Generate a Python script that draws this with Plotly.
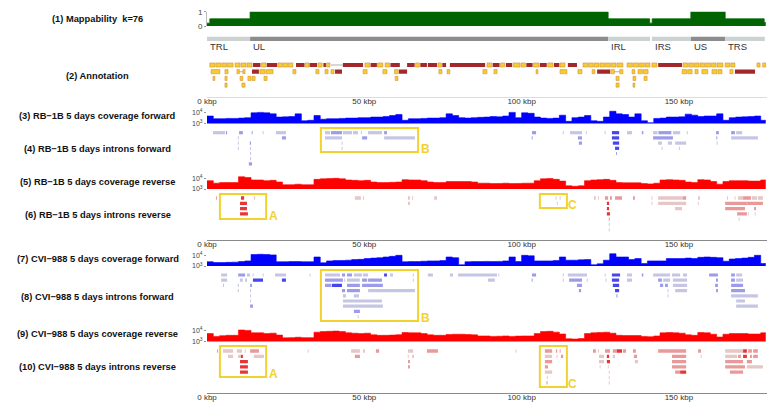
import plotly.graph_objects as go

W, H = 782, 415
X0, X1 = 207, 767
XMAX = 178.0


def fy(px):
    return 1 - px / H


# ---------------- data ----------------
tick_kbp = [0, 50, 100, 150]
tick_text = ["0 kbp", "50 kbp", "100 kbp", "150 kbp"]

# (1) mappability (step function, kbp -> fraction)
map_pos = [0, 0.9, 13.7, 127.5, 140.7, 141.5, 153.8, 164.7, 177.1, 177.6]
map_val = [0.2, 0.5, 1.0, 0.5, 0.2, 0.5, 1.0, 0.5, 0.25, 0.25]

# genome regions
region_names = ["TRL", "UL", "IRL", "IRS", "US", "TRS"]
region_start = [0, 13.7, 127.5, 141.4, 153.8, 164.7]
region_end = [13.7, 127.5, 140.8, 153.8, 164.7, 177.3]
region_unique = [False, True, False, False, True, False]

# (2) annotation: (start, end, row)
genes_yellow = [
    (0.9, 2.5, 1), (2.8, 4.5, 1), (4.8, 6.2, 1), (6.5, 8.3, 1), (8.9, 10.5, 1), (10.8, 12.4, 1),
    (12.7, 14.3, 1), (17.3, 18.8, 1), (22.5, 24.0, 1), (24.3, 25.6, 1), (25.9, 27.3, 1),
    (31.2, 32.4, 1), (35.3, 36.6, 1), (38.0, 39.1, 1), (50.2, 51.8, 1), (54.2, 55.9, 1),
    (56.6, 58.0, 1), (66.3, 67.5, 1), (73.4, 74.5, 1), (89.0, 90.5, 1), (93.3, 94.6, 1),
    (97.3, 99.5, 1), (99.8, 101.2, 1), (103.8, 105.5, 1), (108.3, 110.0, 1), (112.2, 113.8, 1),
    (119.5, 121.0, 1), (121.3, 122.8, 1), (123.1, 124.6, 1), (124.9, 126.4, 1), (126.7, 128.2, 1),
    (128.5, 130.0, 1), (130.3, 132.2, 1), (133.5, 135.2, 1), (135.5, 137.2, 1), (137.5, 139.0, 1),
    (139.3, 140.8, 1), (141.4, 143.0, 1), (151.3, 152.8, 1), (153.1, 154.6, 1), (154.9, 156.4, 1),
    (156.7, 158.2, 1), (158.5, 160.0, 1), (160.3, 161.8, 1), (162.1, 164.0, 1), (164.7, 166.2, 1),
    (166.5, 167.8, 1), (174.8, 175.8, 1), (176.6, 177.6, 1),
    (1.3, 4.1, 2), (5.7, 6.7, 2), (9.5, 10.3, 2), (11.4, 12.1, 2), (16.8, 18.5, 2), (18.8, 21.0, 2),
    (27.3, 28.3, 2), (34.6, 35.6, 2), (37.5, 38.5, 2), (39.4, 40.4, 2), (49.6, 50.9, 2),
    (55.9, 57.2, 2), (59.6, 60.8, 2), (73.7, 74.7, 2), (76.3, 77.2, 2), (87.7, 89.0, 2),
    (91.2, 92.2, 2), (104.6, 105.2, 2), (112.2, 114.4, 2), (117.9, 119.2, 2), (122.4, 123.3, 2),
    (128.3, 129.5, 2), (131.2, 132.2, 2), (135.1, 136.0, 2), (137.0, 138.4, 2), (138.7, 140.2, 2),
    (151.0, 152.5, 2), (152.8, 154.2, 2), (155.1, 156.1, 2), (157.3, 159.2, 2), (160.5, 162.1, 2),
    (162.4, 163.7, 2), (166.2, 167.2, 2),
    (1.9, 2.5, 3), (5.7, 6.4, 3), (10.5, 11.4, 3), (13.0, 14.0, 3), (14.3, 15.3, 3), (18.1, 19.1, 3),
    (59.8, 60.7, 3), (130.0, 131.0, 3), (135.4, 136.3, 3), (138.9, 139.9, 3),
    (5.7, 6.4, 4), (11.1, 12.1, 4), (130.0, 131.0, 4), (135.4, 136.0, 4),
]
genes_red = [
    (14.6, 17.0, 1), (19.0, 22.3, 1), (28.3, 31.0, 1), (32.6, 35.0, 1), (37.0, 37.8, 1),
    (43.2, 49.6, 1), (52.0, 54.0, 1), (58.3, 61.3, 1), (63.6, 66.0, 1), (67.8, 69.9, 1),
    (70.2, 73.1, 1), (74.8, 76.0, 1), (77.2, 88.4, 1), (90.8, 93.0, 1), (95.0, 97.0, 1),
    (101.5, 103.5, 1), (105.8, 108.0, 1), (110.3, 112.0, 1), (114.7, 117.6, 1), (143.4, 151.0, 1),
    (14.3, 16.5, 2), (40.7, 42.9, 2), (61.0, 63.6, 2), (124.0, 128.1, 2), (167.8, 174.2, 2),
]
gene_links = [(39.4, 43.2, 1), (10.3, 11.4, 2), (129.5, 131.2, 2)]

# coverage bins (kbp start of each 2 kbp bin)
cov_pos = list(range(0, 178, 2))
cov_rb_fwd = [5000, 2800, 2800, 3000, 3000, 3200, 3500, 10000, 11000, 10000, 8000, 4000, 4200, 4500, 8000,
              1800, 2000, 5600, 2500, 2800, 2800, 3000, 3200, 3200, 3500, 3500, 4000, 4000, 4500, 5600,
              7000, 2000, 2800, 2800, 3000, 3200, 3200, 3500, 8000, 5600, 3500, 3200, 3500, 3800, 4000,
              4500, 4200, 5000, 11000, 3500, 10000, 9000, 4000, 3200, 3000, 3200, 6000, 1600, 3500, 4000,
              5600, 1800, 1600, 4000, 14000, 8000, 7000, 4000, 8000, 1800, 1200, 3000, 3200, 4000, 4000,
              4200, 7500, 6000, 4500, 5000, 5000, 8000, 2000, 3500, 4000, 4200, 4500, 5000, 2000]
cov_rb_rev = [6000, 3500, 4000, 4000, 4000, 14000, 12000, 7000, 7000, 6000, 6500, 4500, 2500, 2500, 2800,
              2500, 2500, 8000, 9000, 9500, 10000, 9000, 7000, 6500, 6000, 6500, 4500, 4000, 4000, 4200,
              4500, 7500, 7000, 7000, 6000, 4500, 4000, 4000, 5000, 5000, 5000, 5000, 4500, 3500, 3500,
              3200, 3300, 3500, 3200, 3300, 3500, 3500, 6000, 9000, 9500, 8000, 5500, 2000, 1800, 2000,
              6000, 7000, 7500, 8000, 6500, 4000, 3800, 3800, 3800, 3200, 3000, 3500, 7000, 7500, 7000,
              6500, 4500, 4000, 7500, 7000, 5000, 2800, 5000, 6000, 6000, 6000, 5500, 5500, 7000]
cov_cvi_fwd = [2500, 2100, 2100, 2200, 2300, 2600, 3000, 12000, 12500, 12000, 11000, 2500, 2500, 2600, 2600,
               2500, 2500, 7000, 2000, 3000, 3200, 3300, 3500, 4000, 4200, 5000, 5500, 6000, 7000, 8000,
               10000, 2500, 2600, 2600, 2800, 3000, 3000, 3200, 7000, 6000, 1300, 2500, 2600, 2600, 2700,
               2600, 2700, 3000, 7000, 2600, 10000, 9000, 3000, 3000, 3000, 3200, 7000, 3500, 3500, 3800,
               4000, 1300, 1600, 3500, 14000, 7000, 7000, 4000, 5000, 1700, 3000, 3000, 3000, 5000, 5000,
               5000, 5500, 5000, 6500, 7000, 6500, 6000, 2800, 4500, 5000, 5500, 6500, 10000, 1700]
cov_cvi_rev = [5500, 3000, 3500, 3800, 3800, 12000, 11000, 6500, 6500, 5500, 6000, 4000, 2200, 2300, 2500,
               2300, 2300, 7500, 8500, 9000, 9500, 8500, 6500, 6000, 5500, 6000, 4200, 3800, 3800, 4000,
               4300, 7000, 6500, 6500, 5500, 4200, 3800, 3800, 4500, 4800, 4800, 4500, 4200, 3300, 3300,
               3000, 3100, 3300, 3000, 3200, 3300, 3300, 5500, 8500, 9000, 7500, 5000, 1800, 1700, 1900,
               5500, 6500, 7000, 7500, 6000, 3800, 3600, 3600, 3600, 3000, 2800, 3300, 6500, 7000, 6500,
               6000, 4200, 3800, 7000, 6500, 4800, 2600, 4800, 5500, 5500, 5500, 5000, 5000, 6500]

# introns: (start kbp, end kbp, row, support level 1..3)
introns_rb_fwd = [
    (1.9, 5.7, 1, 1), (6.0, 6.4, 1, 2), (10.2, 11.4, 1, 2), (14.2, 14.5, 1, 2), (17.7, 18.0, 1, 1),
    (21.9, 25.1, 1, 1), (37.5, 39.1, 1, 1), (39.4, 42.9, 1, 2), (43.2, 46.1, 1, 1), (46.4, 48.0, 1, 1),
    (48.9, 49.2, 1, 1), (51.2, 55.6, 1, 1), (56.3, 57.2, 1, 2), (103.3, 104.6, 1, 2), (113.1, 113.4, 1, 1),
    (115.4, 119.2, 1, 1), (120.4, 120.7, 1, 1), (126.4, 126.7, 1, 1), (128.7, 131.0, 1, 3),
    (133.5, 135.1, 1, 1), (138.2, 138.7, 1, 2), (141.8, 143.2, 1, 1), (143.5, 147.6, 1, 2),
    (148.1, 150.4, 1, 1), (152.5, 152.8, 1, 1), (161.8, 162.7, 1, 2), (166.6, 167.8, 1, 2),
    (168.2, 170.1, 1, 1),
    (9.8, 10.1, 2, 1), (23.8, 25.1, 2, 2), (37.5, 42.9, 2, 1), (49.3, 50.9, 2, 2), (56.3, 66.1, 2, 1),
    (103.2, 103.5, 2, 2), (117.9, 119.2, 2, 2), (128.7, 131.0, 2, 3), (141.8, 148.1, 2, 2),
    (161.9, 162.2, 2, 2), (166.6, 175.1, 2, 1),
    (9.8, 10.1, 3, 1), (13.6, 14.0, 3, 2), (42.8, 43.1, 3, 1), (118.2, 119.2, 3, 2), (129.0, 131.0, 3, 3),
    (143.4, 144.6, 3, 1), (146.5, 147.8, 3, 1), (148.8, 152.3, 3, 1), (162.0, 162.3, 3, 1),
    (9.8, 10.1, 4, 1), (13.7, 14.0, 4, 1), (42.8, 43.1, 4, 1), (129.7, 131.0, 4, 3), (144.5, 144.8, 4, 1),
    (150.0, 150.3, 4, 1),
    (13.7, 14.0, 5, 1), (130.0, 130.3, 5, 2),
    (13.7, 14.0, 6, 1),
    (13.3, 14.3, 7, 2),
]
introns_rb_rev = [
    (2.9, 3.2, 1, 2), (10.8, 11.8, 1, 3), (14.9, 15.3, 1, 1), (47.0, 48.9, 1, 1), (49.6, 49.9, 1, 1),
    (63.9, 64.5, 1, 1), (65.2, 65.5, 1, 1), (72.2, 73.1, 1, 1), (110.8, 111.1, 1, 1), (112.1, 112.4, 1, 1),
    (123.0, 123.6, 1, 1), (124.3, 124.6, 1, 1), (126.5, 127.5, 1, 2), (128.1, 128.7, 1, 2),
    (129.7, 131.9, 1, 2), (135.4, 136.0, 1, 2), (141.3, 141.6, 1, 1), (143.4, 151.3, 1, 1),
    (151.3, 152.3, 1, 2), (156.1, 156.7, 1, 1), (165.3, 165.6, 1, 1), (167.7, 168.0, 1, 1),
    (168.8, 170.4, 1, 1), (170.4, 172.9, 1, 2), (173.2, 174.8, 1, 1), (175.1, 176.7, 1, 1),
    (10.5, 12.7, 2, 3), (63.9, 64.5, 2, 1), (111.2, 111.5, 2, 1), (127.1, 127.8, 2, 3), (141.3, 141.6, 2, 1),
    (143.4, 152.3, 2, 1), (156.0, 156.3, 2, 1), (164.7, 171.6, 2, 2), (171.6, 176.7, 2, 2),
    (10.5, 12.7, 3, 3), (127.1, 127.8, 3, 3), (148.8, 151.0, 3, 1), (164.7, 171.0, 3, 2), (173.9, 174.5, 3, 2),
    (10.5, 13.0, 4, 3), (127.1, 128.1, 4, 3), (168.5, 171.6, 4, 2), (171.9, 172.2, 4, 1), (174.1, 174.4, 4, 1),
    (127.7, 128.0, 5, 2), (169.0, 169.3, 5, 1),
    (127.7, 128.0, 6, 1),
    (127.7, 128.0, 7, 1),
]
introns_cvi_fwd = [
    (4.5, 6.4, 1, 1), (9.9, 12.1, 1, 2), (12.7, 13.7, 1, 1), (14.5, 14.8, 1, 1), (17.7, 18.0, 1, 1),
    (21.6, 25.1, 1, 1), (32.6, 32.9, 1, 1), (37.5, 42.3, 1, 1), (42.9, 43.9, 1, 2), (44.5, 46.1, 1, 2),
    (46.7, 49.3, 1, 1), (49.6, 51.2, 1, 1), (56.3, 57.2, 1, 3), (58.2, 59.1, 1, 1), (65.4, 65.7, 1, 1),
    (70.2, 71.8, 1, 1), (77.2, 78.2, 1, 1), (79.8, 92.2, 1, 1), (92.6, 92.9, 1, 1), (103.3, 104.6, 1, 2),
    (113.1, 113.4, 1, 1), (114.7, 120.8, 1, 1), (126.4, 126.7, 1, 1), (128.7, 131.3, 1, 3),
    (133.5, 135.1, 1, 1), (138.2, 138.7, 1, 2), (141.8, 147.2, 1, 1), (147.8, 150.4, 1, 1),
    (151.3, 152.6, 1, 1), (159.6, 162.4, 1, 2), (166.6, 167.8, 1, 2), (168.2, 170.1, 1, 1),
    (4.5, 6.4, 2, 1), (10.5, 11.4, 2, 1), (12.1, 12.7, 2, 1), (14.6, 17.8, 2, 3), (23.8, 25.1, 2, 3),
    (37.5, 43.2, 2, 2), (43.6, 43.9, 2, 1), (44.5, 48.6, 2, 1), (49.3, 50.9, 2, 2), (51.2, 55.6, 2, 2),
    (65.4, 65.7, 2, 1), (89.3, 91.5, 2, 1), (103.2, 103.5, 2, 2), (113.1, 113.4, 2, 1), (115.1, 119.2, 2, 2),
    (120.7, 121.0, 2, 1), (126.7, 127.0, 2, 1), (128.7, 131.0, 2, 3), (133.5, 135.1, 2, 1),
    (143.4, 144.6, 2, 2), (145.0, 147.2, 2, 1), (148.1, 152.6, 2, 1), (161.8, 162.4, 2, 2),
    (166.6, 167.8, 2, 2), (168.2, 170.4, 2, 1),
    (5.1, 5.4, 3, 1), (9.8, 10.1, 3, 1), (13.7, 14.3, 3, 2), (37.5, 39.5, 3, 2), (39.7, 42.9, 3, 3),
    (44.5, 48.6, 3, 2), (49.3, 55.9, 3, 2), (117.6, 119.2, 3, 2), (129.0, 131.0, 3, 3), (144.0, 145.0, 3, 2),
    (145.6, 146.5, 3, 2), (148.1, 152.6, 3, 1), (161.5, 162.4, 3, 2), (166.6, 170.4, 3, 2),
    (9.8, 10.1, 4, 1), (13.7, 14.0, 4, 1), (42.9, 43.9, 4, 2), (44.5, 48.6, 4, 2), (51.2, 66.1, 4, 1),
    (118.2, 118.9, 4, 2), (129.7, 131.0, 4, 3), (146.4, 146.7, 4, 1), (148.8, 152.6, 4, 1),
    (161.8, 162.4, 4, 2), (166.6, 171.0, 4, 2),
    (13.7, 14.0, 5, 1), (43.2, 44.2, 5, 1), (46.7, 48.3, 5, 1), (130.0, 130.6, 5, 1), (146.4, 146.7, 5, 1),
    (166.6, 175.1, 5, 1),
    (13.7, 14.0, 6, 1), (43.2, 55.6, 6, 1), (168.2, 171.0, 6, 1),
    (13.7, 14.6, 7, 2), (43.2, 55.9, 7, 1), (168.2, 175.1, 7, 1),
    (46.7, 48.6, 8, 2),
    (47.9, 48.2, 9, 1),
]
introns_cvi_rev = [
    (3.2, 3.5, 1, 2), (5.1, 8.3, 1, 1), (9.5, 11.1, 1, 1), (12.0, 12.3, 1, 1), (13.7, 16.5, 1, 2),
    (32.0, 32.3, 1, 1), (45.8, 48.6, 1, 1), (49.6, 50.2, 1, 1), (53.7, 54.7, 1, 2), (63.9, 65.5, 1, 1),
    (69.9, 73.4, 1, 2), (98.1, 98.4, 1, 1), (107.4, 109.7, 1, 2), (110.9, 111.3, 1, 2), (112.1, 112.4, 1, 2),
    (122.7, 123.6, 1, 2), (124.3, 124.6, 1, 1), (126.5, 128.1, 1, 2), (129.0, 130.3, 1, 2),
    (130.3, 131.9, 1, 3), (132.2, 133.2, 1, 2), (135.4, 136.3, 1, 2), (143.4, 152.3, 1, 2),
    (156.1, 157.0, 1, 2), (164.7, 170.4, 1, 1), (170.4, 171.6, 1, 3), (172.0, 173.2, 1, 2),
    (173.6, 175.1, 1, 2),
    (6.7, 8.3, 2, 1), (9.9, 10.8, 2, 1), (10.8, 11.4, 2, 3), (14.9, 18.1, 2, 1), (47.0, 48.6, 2, 2),
    (63.8, 64.1, 2, 1), (65.2, 65.8, 2, 1), (107.4, 109.7, 2, 1), (111.1, 111.4, 2, 1), (112.5, 113.2, 2, 2),
    (124.6, 126.2, 2, 1), (127.1, 127.8, 2, 3), (129.0, 129.7, 2, 1), (135.7, 136.7, 2, 2),
    (147.8, 152.3, 2, 2), (156.9, 157.2, 2, 1), (164.7, 168.5, 2, 1), (168.8, 169.7, 2, 2),
    (170.4, 171.6, 2, 3), (172.6, 173.2, 2, 2), (173.6, 175.1, 2, 2),
    (10.5, 13.0, 3, 3), (63.9, 64.5, 3, 2), (107.4, 109.7, 3, 2), (124.6, 126.2, 3, 1), (127.1, 128.1, 3, 3),
    (136.0, 137.0, 3, 1), (147.8, 152.3, 3, 2), (164.7, 170.4, 3, 2), (171.6, 173.2, 3, 2),
    (10.5, 13.0, 4, 3), (63.9, 64.5, 4, 2), (107.4, 108.4, 4, 2), (124.8, 125.1, 4, 1), (127.4, 127.7, 4, 1),
    (147.8, 152.3, 4, 2), (164.7, 171.0, 4, 2), (171.6, 176.7, 4, 1),
    (10.5, 13.0, 5, 3), (107.4, 109.7, 5, 1), (127.7, 128.0, 5, 1), (148.8, 150.4, 5, 2),
    (150.4, 152.3, 5, 3), (166.2, 170.4, 5, 2),
    (108.0, 108.3, 6, 1), (127.7, 128.0, 6, 1),
    (107.8, 108.4, 7, 1), (127.7, 128.0, 7, 1),
]

# highlighted regions: (letter, start kbp, end kbp, label kbp)
highlight_regions = {"A": (4.1, 18.8, 21.0), "B": (36.2, 67.1, 69.3), "C": (105.8, 114.4, 116.3)}

track_labels = [
    "(1) Mappability\u00a0 k=76",
    "(2) Annotation",
    "(3) RB\u22121B 5 days coverage forward",
    "(4) RB\u22121B 5 days introns forward",
    "(5) RB\u22121B 5 days coverage reverse",
    "(6) RB\u22121B 5 days introns reverse",
    "(7) CVI\u2212988 5 days coverage forward",
    "(8) CVI\u2212988 5 days introns forward",
    "(9) CVI\u2212988 5 days coverage reverse",
    "(10) CVI\u2212988 5 days introns reverse",
]

# ---------------- layout constants ----------------
FONT = "Liberation Sans"
label_y_px = [19.3, 75.7, 116, 149, 182, 215, 259, 297, 334, 367]
BLUE_LV = {1: "#c6c6e4", 2: "#9c9ce8", 3: "#4646ee"}
RED_LV = {1: "#e6c6c6", 2: "#ea9898", 3: "#ea3434"}
GOLD = "#f2d230"

fig = go.Figure()


def bars(items, xa, ya, colors, width=0.62, line=None):
    s = [i[0] for i in items]
    e = [i[1] for i in items]
    r = [i[2] for i in items]
    if isinstance(colors, dict):
        col = [colors[i[3]] for i in items]
    else:
        col = colors
    fig.add_trace(go.Bar(
        orientation="h", base=s, x=[b - a for a, b in zip(s, e)], y=r, width=width,
        marker=dict(color=col, line=line or dict(width=0)),
        xaxis=xa, yaxis=ya, hoverinfo="skip", showlegend=False))


def coverage(vals, color, xa, ya):
    fig.add_trace(go.Scatter(
        x=cov_pos + [177.6], y=vals + [vals[-1]], mode="lines",
        line=dict(color=color, width=0.6, shape="hv"), fill="tozeroy", fillcolor=color,
        xaxis=xa, yaxis=ya, hoverinfo="skip", showlegend=False))


# (1) mappability
fig.add_trace(go.Scatter(x=map_pos, y=map_val, mode="lines", line=dict(color="#006400", width=0.8, shape="hv"),
                         fill="tozeroy", fillcolor="#006400", xaxis="x", yaxis="y",
                         hoverinfo="skip", showlegend=False))
# regions
fig.add_trace(go.Bar(orientation="h", base=region_start,
                     x=[b - a for a, b in zip(region_start, region_end)], y=[0] * len(region_start), width=1,
                     marker=dict(color=["#8c8c8c" if u else "#ccd1d2" for u in region_unique], line=dict(width=0)),
                     xaxis="x", yaxis="y2", hoverinfo="skip", showlegend=False))
# (2) annotation
bars(gene_links, "x", "y3", "#b0b0b0", width=0.15)
bars(genes_red, "x", "y3", "#a3282b", width=0.62)
bars(genes_yellow, "x", "y3", "#f5cc34", width=0.62, line=dict(color="#d0862a", width=0.5))

# tracks 3-6
coverage(cov_rb_fwd, "#0000ff", "x2", "y4")
bars(introns_rb_fwd, "x2", "y5", BLUE_LV)
coverage(cov_rb_rev, "#ff0000", "x2", "y6")
bars(introns_rb_rev, "x2", "y7", RED_LV)
# tracks 7-10
coverage(cov_cvi_fwd, "#0000ff", "x3", "y8")
bars(introns_cvi_fwd, "x3", "y9", BLUE_LV)
coverage(cov_cvi_rev, "#ff0000", "x3", "y10")
bars(introns_cvi_rev, "x3", "y11", RED_LV)

# ---------------- axes ----------------
xcommon = dict(range=[0, XMAX], domain=[X0 / W, X1 / W], showgrid=False, zeroline=False,
               tickvals=tick_kbp, ticktext=tick_text, ticks="", showline=True, linewidth=1,
               tickfont=dict(family=FONT, size=8, color="#333"), anchor="free", fixedrange=True,
               automargin=False, ticklabelstandoff=-3)
layout_axes = {
    "xaxis": dict(xcommon, position=fy(96.5), linecolor="#dcdcdc"),
    "xaxis2": dict(xcommon, position=fy(239.5), linecolor="#8a8a8a"),
    "xaxis3": dict(xcommon, position=fy(392.5), linecolor="#8a8a8a"),
}

hidden = dict(showgrid=False, zeroline=False, showticklabels=False, ticks="", showline=False, fixedrange=True,
              automargin=False)
layout_axes["yaxis"] = dict(domain=[fy(26), fy(11.7)], range=[0, 1], anchor="x", showgrid=False, zeroline=False,
                            tickvals=[0, 1], ticktext=["0", "1"], ticks="outside", ticklen=2, tickcolor="#999",
                            showline=True, linecolor="#bbb", linewidth=1, automargin=False,
                            tickfont=dict(family=FONT, size=8, color="#444"), fixedrange=True)
layout_axes["yaxis2"] = dict(hidden, domain=[fy(41), fy(36.5)], range=[-0.5, 0.5], anchor="x")


def rows_axis(y0, sp, bottom, anchor):
    top = y0 - 0.5 * sp
    nrow = 0.5 + (bottom - top) / sp
    return dict(hidden, domain=[fy(bottom), fy(top)], range=[nrow, 0.5], anchor=anchor)


def cov_axis(top, anchor):
    return dict(domain=[fy(top + 16), fy(top)], type="log", range=[3, 4.5], anchor=anchor,
                showgrid=False, zeroline=False, tickvals=[1000, 10000], automargin=False,
                ticktext=["10<sup>3</sup>", "10<sup>4</sup>"], ticks="outside", ticklen=2, tickcolor="#999",
                showline=False, tickfont=dict(family=FONT, size=7, color="#444"), fixedrange=True)


layout_axes["yaxis3"] = rows_axis(65.0, 6.7, 89, "x")
layout_axes["yaxis4"] = cov_axis(107.5, "x2")
layout_axes["yaxis5"] = rows_axis(132.7, 5.2, 168, "x2")
layout_axes["yaxis6"] = cov_axis(173, "x2")
layout_axes["yaxis7"] = rows_axis(198.0, 5.3, 234, "x2")
layout_axes["yaxis8"] = cov_axis(250, "x3")
layout_axes["yaxis9"] = rows_axis(275.0, 5.2, 322, "x3")
layout_axes["yaxis10"] = cov_axis(325.5, "x3")
layout_axes["yaxis11"] = rows_axis(351.0, 5.3, 389, "x3")

# ---------------- annotations & shapes ----------------
annotations = []
for txt, ypx in zip(track_labels, label_y_px):
    annotations.append(dict(x=97.5 / W, y=fy(ypx), xref="paper", yref="paper", text="<b>%s</b>" % txt,
                            showarrow=False, xanchor="center", yanchor="middle",
                            font=dict(family=FONT, size=9.3, color="#111")))
for name, st in zip(region_names, region_start):
    annotations.append(dict(x=st, y=fy(46.5), xref="x", yref="paper", text=name, showarrow=False,
                            xanchor="left", yanchor="middle", xshift=1,
                            font=dict(family=FONT, size=9.5, color="#333")))

box_px = {  # vertical extent (px) of highlight boxes, per section
    2: {"A": (194, 219), "B": (128, 152), "C": (194, 208)},
    3: {"A": (346, 377), "B": (270, 321), "C": (346, 387)},
}
shapes = []
for sec, xa in ((2, "x2"), (3, "x3")):
    for letter, (s, e, lx) in highlight_regions.items():
        y0, y1 = box_px[sec][letter]
        shapes.append(dict(type="rect", xref=xa, yref="paper", x0=s, x1=e, y0=fy(y1), y1=fy(y0),
                           line=dict(color=GOLD, width=2), fillcolor="rgba(0,0,0,0)"))
        annotations.append(dict(x=lx, y=fy(y1 - 3), xref=xa, yref="paper", text="<b>%s</b>" % letter,
                                showarrow=False, xanchor="center", yanchor="middle",
                                font=dict(family=FONT, size=12, color=GOLD)))

fig.update_layout(width=W, height=H, margin=dict(l=0, r=0, t=0, b=0, autoexpand=False), paper_bgcolor="white",
                  plot_bgcolor="white", showlegend=False, barmode="overlay",
                  annotations=annotations, shapes=shapes, **layout_axes)

fig.write_html("out.html", config={"displayModeBar": False, "staticPlot": True},
               post_script="document.body.style.margin='0';document.body.style.padding='0';"
                           "document.documentElement.style.overflow='hidden';")
